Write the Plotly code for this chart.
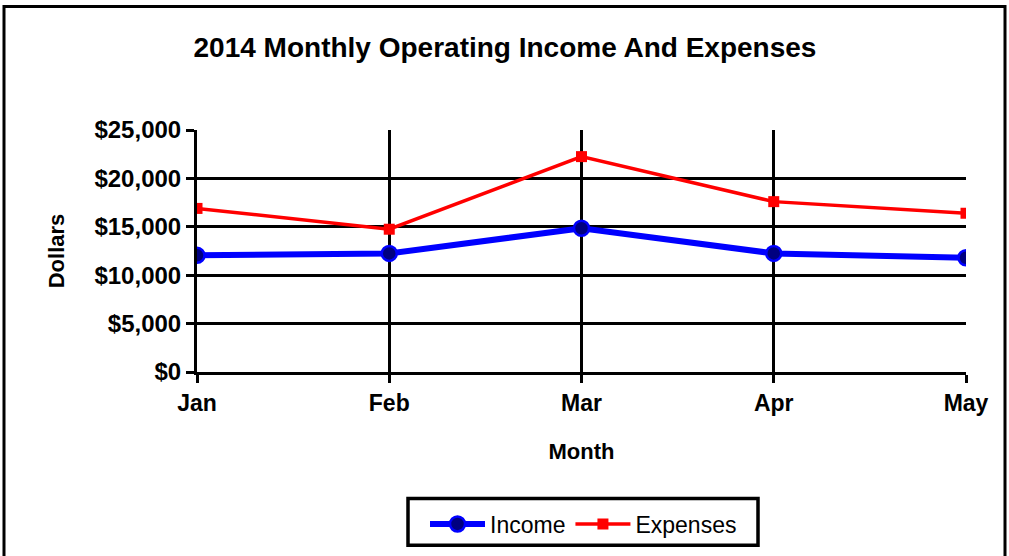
import plotly.graph_objects as go

months = ["Jan", "Feb", "Mar", "Apr", "May"]
income = [12050, 12250, 14850, 12250, 11800]
expenses = [16900, 14750, 22250, 17600, 16400]
y_ticks = [0, 5000, 10000, 15000, 20000, 25000]
y_tick_text = ["$0", "$5,000", "$10,000", "$15,000", "$20,000", "$25,000"]

W, H = 1009, 556
L, R, T, B = 197, 43, 130, 183
pw, ph = W - L - R, H - T - B

def px_x(p):
    return (p - L) / pw

def px_y(p):
    return (H - B - p) / ph

FONT = "Arial, Liberation Sans, sans-serif"

fig = go.Figure()
fig.add_trace(go.Scatter(
    x=months, y=income, name="Income", mode="lines+markers",
    line=dict(color="#0000FF", width=6),
    marker=dict(symbol="circle", size=15, color="#000080",
                line=dict(color="#0000FF", width=2.5)),
))
fig.add_trace(go.Scatter(
    x=months, y=expenses, name="Expenses", mode="lines+markers",
    line=dict(color="#FF0000", width=3.5),
    marker=dict(symbol="square", size=11, color="#FF0000"),
))

fig.update_layout(
    width=W, height=H,
    margin=dict(l=L, r=R, t=T, b=B),
    paper_bgcolor="white", plot_bgcolor="white",
    font=dict(family=FONT, color="black"),
    title=dict(text="<b>2014 Monthly Operating Income And Expenses</b>",
               x=px_x(505), xref="paper", xanchor="center",
               y=1 - 47 / H, yanchor="middle",
               font=dict(size=28, family=FONT, color="black")),
    showlegend=True,
    legend=dict(orientation="h", x=px_x(425), xanchor="left",
                y=px_y(524), yanchor="middle",
                borderwidth=0, bgcolor="rgba(0,0,0,0)",
                font=dict(size=23, family=FONT, color="black"),
                itemwidth=55),
    xaxis=dict(
        type="category", range=[0, 4],
        showgrid=True, gridcolor="black", gridwidth=3,
        showline=True, linecolor="black", linewidth=3,
        ticks="outside", ticklen=8, tickwidth=3, tickcolor="black",
        tickfont=dict(size=23, family=FONT, color="black"),
        tickprefix="<b>", ticksuffix="</b>",
        title=dict(text="<b>Month</b>", font=dict(size=22, family=FONT, color="black"),
                   standoff=30),
        zeroline=False,
    ),
    yaxis=dict(
        range=[0, 25000],
        tickvals=y_ticks, ticktext=["<b>" + t + "</b>" for t in y_tick_text],
        showgrid=True, gridcolor="black", gridwidth=3,
        showline=True, linecolor="black", linewidth=3,
        ticks="outside", ticklen=8, tickwidth=3, tickcolor="black",
        tickfont=dict(size=24, family=FONT, color="black"),
        title=dict(text="<b>Dollars</b>", font=dict(size=22, family=FONT, color="black"),
                   standoff=24),
        zeroline=False,
    ),
    shapes=[
        dict(type="rect", xref="paper", yref="paper",
             x0=px_x(4), x1=px_x(1005), y0=px_y(620), y1=px_y(6),
             line=dict(color="black", width=3), fillcolor="rgba(0,0,0,0)",
             layer="below"),
        dict(type="rect", xref="paper", yref="paper",
             x0=px_x(408), x1=px_x(758), y0=px_y(547), y1=px_y(500),
             line=dict(color="black", width=3.5), fillcolor="white",
             layer="below"),
    ],
)

fig.write_html("out.html", config={"displayModeBar": False},
               post_script="document.body.style.margin='0';document.body.style.overflow='hidden';")
